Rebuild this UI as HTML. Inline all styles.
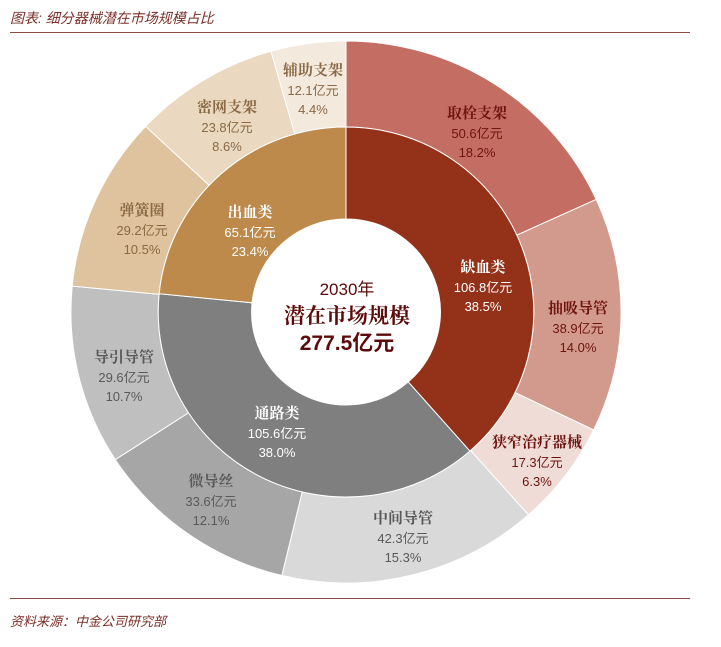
<!DOCTYPE html>
<html><head><meta charset="utf-8">
<style>
html,body{margin:0;padding:0;background:#fff;}
body{width:721px;height:647px;overflow:hidden;position:relative;font-family:"Liberation Sans","Noto Sans CJK SC",sans-serif;}
.hdr{position:absolute;left:10px;top:8px;font-size:14px;font-style:italic;color:#7a2e26;}
.ftr{position:absolute;left:10px;top:611px;font-size:13px;font-style:italic;color:#7a2e26;}
.ln{position:absolute;left:10px;width:680px;height:1px;background:#8b4a44;}
svg{position:absolute;left:0;top:0;}
.t{font-family:"Noto Serif CJK SC","Liberation Serif",serif;font-weight:700;font-size:15px;}
.n{font-family:"Liberation Sans","Noto Sans CJK SC",sans-serif;font-size:13px;}
</style></head><body>
<div class="hdr">图表: 细分器械潜在市场规模占比</div>
<div class="ln" style="top:32px"></div>
<svg id="s" width="721" height="647" viewBox="0 0 721 647"><g id="g" transform="translate(346,0) scale(1.015,1) translate(-346,0)"></g></svg>
<div class="ln" style="top:598px"></div>
<div class="ftr">资料来源：中金公司研究部</div>
<script>
var cx=346,cy=312,R0=93,R1=185,R2=271;
var svg=document.getElementById('s');var g=document.getElementById('g');var NS='http://www.w3.org/2000/svg';
function pt(r,a){var t=a*2*Math.PI-Math.PI/2;return [cx+r*Math.cos(t),cy+r*Math.sin(t)];}
function arc(ri,ro,a0,a1,fill){var p1=pt(ro,a0),p2=pt(ro,a1),p3=pt(ri,a1),p4=pt(ri,a0);var lg=(a1-a0)>0.5?1:0;
var d='M'+p1+' A'+ro+','+ro+' 0 '+lg+' 1 '+p2+' L'+p3+' A'+ri+','+ri+' 0 '+lg+' 0 '+p4+' Z';
var e=document.createElementNS(NS,'path');e.setAttribute('d',d);e.setAttribute('fill',fill);e.setAttribute('stroke','#fff');e.setAttribute('stroke-width','1');g.appendChild(e);}
var outer=[[18.2,'#c46e63'],[14.0,'#d19a8c'],[6.3,'#f0dcd6'],[15.3,'#d9d9d9'],[12.1,'#a6a6a6'],[10.7,'#bfbfbf'],[10.5,'#dfc29e'],[8.6,'#ead8c0'],[4.4,'#f3e9dd']];
var s=0,tot=100.1;outer.forEach(function(o){var a0=s/tot;s+=o[0];arc(R1,R2,a0,s/tot,o[1]);});
var inner=[[38.5,'#943219'],[38.0,'#7f7f7f'],[23.4,'#bd8a4c']];
s=0;tot=99.9;inner.forEach(function(o){var a0=s/tot;s+=o[0];arc(R0,R1,a0,s/tot,o[1]);});
var labels=[
[313,70,'辅助支架','12.1亿元','4.4%','#8a6a45'],
[227,107,'密网支架','23.8亿元','8.6%','#8a6a45'],
[477,113,'取栓支架','50.6亿元','18.2%','#6e1410'],
[142,210,'弹簧圈','29.2亿元','10.5%','#8a6a45'],
[250,212,'出血类','65.1亿元','23.4%','#ffffff'],
[483,267,'缺血类','106.8亿元','38.5%','#ffffff'],
[578,308,'抽吸导管','38.9亿元','14.0%','#6e1410'],
[124,357,'导引导管','29.6亿元','10.7%','#595959'],
[277,413,'通路类','105.6亿元','38.0%','#ffffff'],
[537,442,'狭窄治疗器械','17.3亿元','6.3%','#6e1410'],
[211,481,'微导丝','33.6亿元','12.1%','#595959'],
[403,518,'中间导管','42.3亿元','15.3%','#595959']];
var h='';labels.forEach(function(l){
h+='<text x="'+l[0]+'" y="'+(l[1]+5)+'" text-anchor="middle" class="t" fill="'+l[5]+'">'+l[2]+'</text>';
h+='<text x="'+l[0]+'" y="'+(l[1]+25)+'" text-anchor="middle" class="n" fill="'+l[5]+'">'+l[3]+'</text>';
h+='<text x="'+l[0]+'" y="'+(l[1]+44)+'" text-anchor="middle" class="n" fill="'+l[5]+'">'+l[4]+'</text>';});
h+='<text x="347" y="295" text-anchor="middle" font-family="Liberation Sans,Noto Sans CJK SC,sans-serif" font-size="17" fill="#5c0a0a">2030年</text>';
h+='<text x="347" y="323" text-anchor="middle" font-family="Noto Serif CJK SC,serif" font-weight="700" font-size="21" fill="#5c0a0a">潜在市场规模</text>';
h+='<text x="347" y="350" text-anchor="middle" font-family="Liberation Sans,Noto Sans CJK SC,sans-serif" font-weight="700" font-size="21" fill="#5c0a0a">277.5亿元</text>';
svg.insertAdjacentHTML('beforeend',h);
</script>
</body></html>
